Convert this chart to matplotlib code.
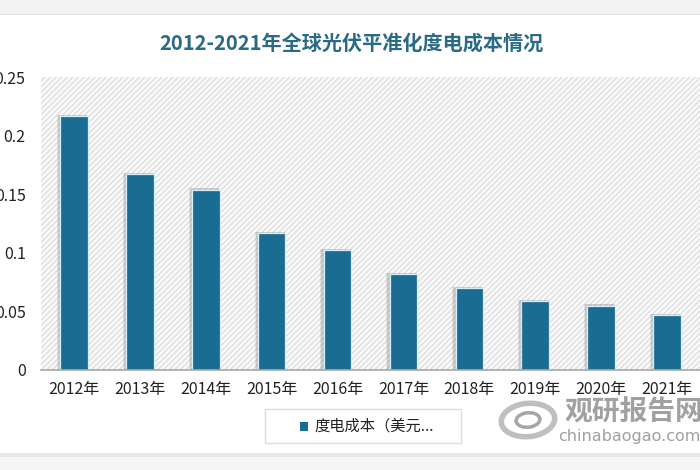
import matplotlib
matplotlib.use("Agg")
import matplotlib.pyplot as plt
from matplotlib.patches import Rectangle, Ellipse, Wedge

plt.rcParams['font.family'] = ['Noto Sans CJK SC', 'DejaVu Sans']
plt.rcParams['hatch.linewidth'] = 1.0

years = ['2012年', '2013年', '2014年', '2015年', '2016年', '2017年', '2018年', '2019年', '2020年', '2021年']
costs = [0.217, 0.167, 0.154, 0.117, 0.102, 0.082, 0.070, 0.059, 0.055, 0.047]
yticks = [0, 0.05, 0.1, 0.15, 0.2, 0.25]
ylabels = ['0', '0.05', '0.1', '0.15', '0.2', '0.25']
title = '2012-2021年全球光伏平准化度电成本情况'
legend_label = '度电成本（美元...'
BAR = '#1b6c93'
W, H = 700, 470

fig = plt.figure(figsize=(W/100, H/100), dpi=100, facecolor='white')
# top and bottom grey bands
fig.add_artist(Rectangle((0, 1-14/H), 1, 14/H, transform=fig.transFigure, fc='#f3f3f3', ec='none'))
fig.add_artist(Rectangle((0, 1-15/H), 1, 1.5/H, transform=fig.transFigure, fc='#e2e2e2', ec='none'))
fig.add_artist(Rectangle((0, 0), 1, 14/H, transform=fig.transFigure, fc='#f5f5f5', ec='none'))
fig.add_artist(Rectangle((0, 13/H), 1, 4/H, transform=fig.transFigure, fc='#e8e8e8', ec='none'))

ax = fig.add_axes([41/W, 1-370/H, 659/W, 293/H])
ax.set_facecolor('white')
ax.add_patch(Rectangle((0, 0), 1, 1, transform=ax.transAxes, fc='#fafafa', ec='#dedede', lw=0, hatch='//////', zorder=0))

x = list(range(len(years)))
# soft shadow behind bars
for off, wid, a in [(0.03, 0.46, 0.18), (0.02, 0.45, 0.25)]:
    ax.bar([i-off for i in x], [c+0.001 for c in costs], width=wid, color='#8a8a8a', alpha=a, zorder=1)
ax.bar(x, costs, width=0.42, color=BAR, edgecolor='#d8eef6', linewidth=0.9, zorder=2)

ax.set_xlim(-0.5, 9.5)
ax.set_ylim(0, 0.25)
ax.set_xticks(x, years)
ax.set_yticks(yticks, ylabels)
ax.tick_params(axis='both', length=0, labelsize=11.5, labelcolor='#222222')
ax.tick_params(axis='x', pad=8)
ax.tick_params(axis='y', pad=11)
for s in ['top', 'right', 'left']:
    ax.spines[s].set_visible(False)
ax.spines['bottom'].set_color('#a8a8a8')
ax.spines['bottom'].set_linewidth(1.2)

fig.text(351/W, 1-43/H, title, ha='center', va='center', fontsize=14.5, fontweight='bold', color='#2a6a84')

# legend box
fig.add_artist(Rectangle((265/W, 1-443/H), 196/W, 34/H, transform=fig.transFigure, fc='white', ec='#dddddd', lw=1))
fig.add_artist(Rectangle((300/W, 1-431/H), 8/W, 9/H, transform=fig.transFigure, fc=BAR, ec='none'))
fig.text(314/W, 1-426/H, legend_label, ha='left', va='center', fontsize=11, color='#222222')

# watermark
fig.text(565/W, 1-412/H, '观研报告网', ha='left', va='center', fontsize=20, fontweight='bold', color='#8a8a8a', alpha=0.8, zorder=5)
fig.text(558/W, 1-436/H, 'chinabaogao.com', ha='left', va='center', fontsize=11.5, color='#a0a0a0', family=['DejaVu Sans'], zorder=5)
ring = fig.add_axes([498/W, 1-442/H, 60/W, 44/H])
ring.set_axis_off()
ring.set_xlim(-1, 1); ring.set_ylim(-1, 1)
ring.add_patch(Ellipse((0, 0), 1.8, 1.5, angle=15, fc='none', ec='#b0b0b0', lw=4, alpha=0.8))
ring.add_patch(Ellipse((0, 0), 0.8, 0.65, angle=15, fc='none', ec='#909090', lw=2.5, alpha=0.8))

fig.savefig('out.png', dpi=100)
